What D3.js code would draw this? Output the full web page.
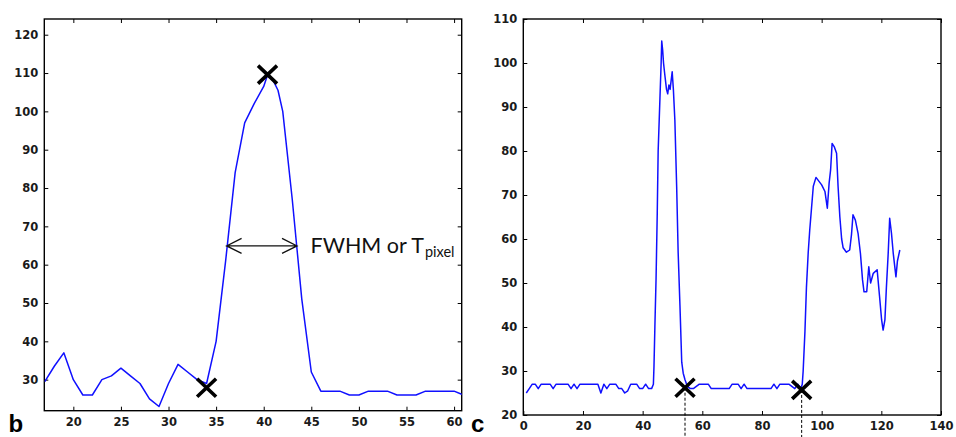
<!DOCTYPE html>
<html>
<head>
<meta charset="utf-8">
<script src="https://cdn.jsdelivr.net/npm/d3@7"></script>
<style>
  body { margin: 0; background: #fff; }
  svg { display: block; }
  .tick text { font-family: "DejaVu Sans", sans-serif; font-weight: bold; font-size: 11.5px; fill: #1a1a1a; }
  .tick line { stroke: #000; stroke-width: 1; }
  .panel-letter { font-family: "Liberation Sans", Arial, sans-serif; font-weight: bold; font-size: 24px; fill: #000; }
  .note { font-family: Lato, "Open Sans", sans-serif; fill: #111; }
</style>
</head>
<body>
<div id="chart"></div>
<script>
// chart static params
const chart_width = 956;
const chart_height = 437;

/// panel b : single peak profile ////////////////////////
const profB_x = [17, 18, 19, 20, 21, 22, 23, 24, 25, 26, 27, 28, 29, 30, 31, 32, 33, 34, 35, 36,
                 37, 38, 39, 40, 40.4, 41, 41.5, 42, 43, 44, 45, 46, 47, 48, 49, 50, 51, 52, 53,
                 54, 55, 56, 57, 58, 59, 60, 61];
const profB_y = [29.5, 33.5, 37, 30, 26, 26, 30, 31, 33, 31, 29, 25, 23, 29, 34, 32, 30, 29, 40, 61,
                 84, 97, 102, 106.5, 109.5, 108, 105.5, 100, 77, 51, 32, 27, 27, 27, 26, 26, 27, 27, 27,
                 26, 26, 26, 27, 27, 27, 27, 26];
const marksB_x = [34, 40.4];
const marksB_y = [27.9, 109.6];
const fwhm_x = [36.1, 43.5];
const fwhm_y = 64.9;
const ticksB_x = [20, 25, 30, 35, 40, 45, 50, 55, 60];
const ticksB_y = [30, 40, 50, 60, 70, 80, 90, 100, 110, 120];

/// panel c : two peaks profile //////////////////////////
const profC_x = [1, 2, 3, 4, 5, 6, 7, 8, 9, 10, 11, 12, 13, 14, 15, 16, 17, 18, 19, 20,
                 21, 22, 23, 24, 25, 26, 27, 28, 29, 30, 31, 32, 33, 34, 35, 36, 37, 38, 39, 40,
                 41, 42, 43, 43.6, 43.8, 44.1, 44.5, 44.9, 45.2, 45.8, 46.2, 46.4, 46.7, 47.0, 47.4, 48.0,
                 48.4, 48.8, 49.2, 49.9, 50.3, 50.8, 51.4, 51.9, 52.5, 53.1, 53.6, 54.2, 55, 56,
                 57, 58, 59, 60, 61, 62, 63, 64, 65, 66, 67, 68, 69, 70, 71, 72, 73, 74, 75, 76,
                 77, 78, 79, 80, 81, 82, 83, 84, 85, 86, 87, 88, 89, 90, 91, 92, 93, 93.5, 93.8, 94.4,
                 94.9, 95.5, 96, 96.6, 97.2, 98.1, 100, 101.1, 101.9, 102.5, 103, 103.5, 104.2, 105, 105.5, 106.1,
                 106.7, 107.2, 108.3, 109.4, 110, 110.5, 111.3, 112.2, 113, 113.7, 114.2, 115.1, 115.8, 116.4, 117.3, 118.6,
                 119.4, 120.1, 120.6, 121.2, 121.7, 122.3, 122.8, 123.4, 124, 124.9, 125.4, 126.2];
const profC_y = [25, 26, 27, 27, 26, 27, 27, 27, 27, 26, 27, 27, 27, 27, 27, 26, 27, 26, 27, 27,
                 27, 27, 27, 27, 27, 25, 27, 26, 27, 27, 27, 26, 26, 25, 25.5, 27, 27, 27, 26, 26,
                 27, 26, 26, 27, 31, 40, 51, 66, 80, 92, 100, 105, 103, 100, 97.5, 94,
                 93, 95, 94, 98, 94, 87, 72, 57, 45, 32, 29.5, 28, 26.5, 26,
                 26, 26.5, 27, 27, 27, 27, 26, 26, 26, 26, 26, 26, 26, 27, 27, 27, 26, 27, 26, 26,
                 26, 26, 26, 26, 26, 26, 26, 27, 26, 27, 27, 27, 27, 26.5, 26, 27, 26, 27, 30, 39,
                 49, 57, 62, 67, 72, 74, 72.3, 70.8, 67, 72.7, 75.7, 81.7, 81, 79.5, 72, 65,
                 60, 58, 57, 57.5, 61, 65.5, 64.3, 61.3, 56.7, 50.7, 48, 48, 53.7, 50, 52.2, 53,
                 47, 41.6, 39.3, 41.6, 49, 56.7, 64.7, 61.3, 56.7, 51.4, 55, 57.5];
const marksC_x = [54.2, 93.3];
const marksC_y = [26.2, 25.7];
const ticksC_x = [0, 20, 40, 60, 80, 100, 120, 140];
const ticksC_y = [20, 30, 40, 50, 60, 70, 80, 90, 100, 110];

// append the svg object to the body of the page
const svg = d3.select("#chart")
    .append("svg")
      .attr("width", chart_width)
      .attr("height", chart_height);

svg.append("rect")
    .attr("width", chart_width)
    .attr("height", chart_height)
    .attr("fill", "#fff");

// draws one framed panel with MATLAB-like inward ticks, returns its scales
function drawPanel(id, box, xDom, yDom, xTicks, yTicks, xs, ys) {
    const w = box.right - box.left,
          h = box.bottom - box.top;

    const xScale = d3.scaleLinear().domain(xDom).range([0, w]);
    const yScale = d3.scaleLinear().domain(yDom).range([h, 0]);

    const g = svg.append("g")
        .attr("transform", `translate(${box.left},${box.top})`);

    // Add a clipPath: the line stays inside the frame
    g.append("defs").append("clipPath")
        .attr("id", "clip-" + id)
      .append("rect")
        .attr("width", w)
        .attr("height", h);

    // axes, ticks pointing inside
    g.append("g")
        .attr("transform", `translate(0,${h})`)
        .call(d3.axisBottom(xScale).tickValues(xTicks).tickSizeInner(-4).tickSizeOuter(0).tickPadding(7))
        .call(a => a.select(".domain").remove());
    g.append("g")
        .call(d3.axisLeft(yScale).tickValues(yTicks).tickSizeInner(-4).tickSizeOuter(0).tickPadding(6))
        .call(a => a.select(".domain").remove());
    g.append("g")
        .call(d3.axisTop(xScale).tickValues(xTicks).tickSizeInner(-4).tickSizeOuter(0).tickFormat(""))
        .call(a => a.select(".domain").remove());
    g.append("g")
        .attr("transform", `translate(${w},0)`)
        .call(d3.axisRight(yScale).tickValues(yTicks).tickSizeInner(-4).tickSizeOuter(0).tickFormat(""))
        .call(a => a.select(".domain").remove());

    // frame
    g.append("rect")
        .attr("width", w)
        .attr("height", h)
        .attr("fill", "none")
        .attr("stroke", "#000")
        .attr("stroke-width", 1.4);

    // profile line
    const line = d3.line()
        .x((d, i) => xScale(xs[i]))
        .y((d, i) => yScale(ys[i]));

    g.append("g")
        .attr("clip-path", `url(#clip-${id})`)
      .append("path")
        .datum(xs)
        .attr("d", line)
        .attr("fill", "none")
        .attr("stroke", "#1010ff")
        .attr("stroke-width", 1.5)
        .attr("stroke-linejoin", "round");

    return {g, xScale, yScale};
}

// X markers
function drawMarks(p, mx, my) {
    p.g.selectAll(null)
      .data(mx)
      .join("path")
        .attr("transform", (d, i) => `translate(${p.xScale(d)},${p.yScale(my[i])})`)
        .attr("d", "M-9.5,-9L9.5,9M-9.5,9L9.5,-9")
        .attr("stroke", "#000")
        .attr("stroke-width", 3.6)
        .attr("fill", "none");
}

const boxB = {left: 44.3, right: 461.7, top: 19, bottom: 410.7};
const boxC = {left: 523.3, right: 941, top: 19, bottom: 415};

const panelB = drawPanel("b", boxB, [16.95, 60.8], [21.9, 124.1], ticksB_x, ticksB_y, profB_x, profB_y);
const panelC = drawPanel("c", boxC, [0, 140], [20, 110], ticksC_x, ticksC_y, profC_x, profC_y);

// dashed drop lines under panel c markers
panelC.g.selectAll(null)
  .data(marksC_x)
  .join("line")
    .attr("x1", d => panelC.xScale(d))
    .attr("x2", d => panelC.xScale(d))
    .attr("y1", (d, i) => panelC.yScale(marksC_y[i]))
    .attr("y2", chart_height - boxC.top)
    .attr("stroke", "#000")
    .attr("stroke-width", 1)
    .attr("stroke-dasharray", "3,2");

drawMarks(panelB, marksB_x, marksB_y);
drawMarks(panelC, marksC_x, marksC_y);

// FWHM double arrow
const ax1 = panelB.xScale(fwhm_x[0]),
      ax2 = panelB.xScale(fwhm_x[1]),
      ay = panelB.yScale(fwhm_y);
panelB.g.append("path")
    .attr("d", `M${ax1},${ay}L${ax2},${ay}` +
               `M${ax1 + 15},${ay - 7.5}L${ax1},${ay}L${ax1 + 15},${ay + 7.5}` +
               `M${ax2 - 15},${ay - 7.5}L${ax2},${ay}L${ax2 - 15},${ay + 7.5}`)
    .attr("fill", "none")
    .attr("stroke", "#111")
    .attr("stroke-width", 1.3);

// label text with subscript
const note = panelB.g.append("text")
    .attr("class", "note")
    .attr("x", ax2 + 13.5)
    .attr("y", ay + 7.3);
note.append("tspan")
    .attr("font-size", 21.5)
    .text("FWHM or T");
note.append("tspan")
    .attr("dx", 1)
    .attr("dy", 3.7)
    .attr("font-size", 14.5)
    .text("pixel");

// panel letters
svg.append("text")
    .attr("class", "panel-letter")
    .attr("x", 8.5)
    .attr("y", 431.5)
    .text("b");
svg.append("text")
    .attr("class", "panel-letter")
    .attr("x", 471)
    .attr("y", 431.5)
    .text("c");
</script>
</body>
</html>
